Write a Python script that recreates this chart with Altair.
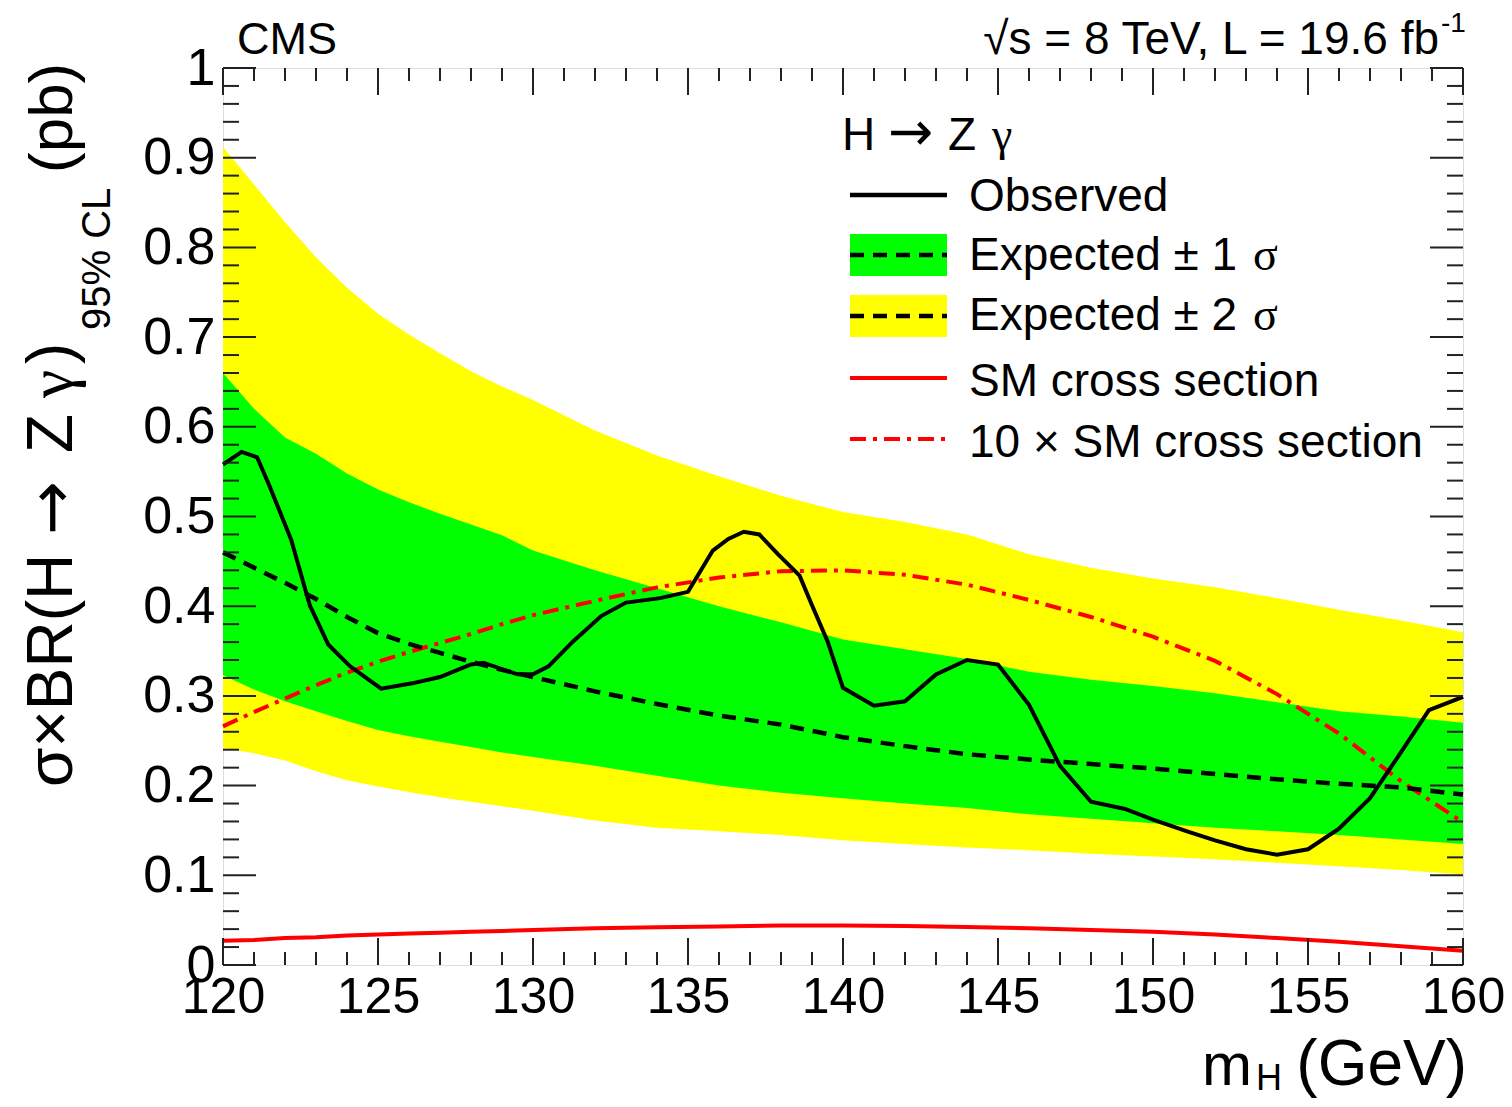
import altair as alt
import pandas as pd

# ---------------- data ----------------
grid_x = [120, 121, 122, 123, 124, 125, 126, 127, 128, 129, 130, 132, 134, 136,
          138, 140, 142, 144, 146, 148, 150, 152, 154, 156, 158, 160]
expected = [0.460, 0.443, 0.426, 0.408, 0.388, 0.370, 0.358, 0.348, 0.338, 0.329,
            0.321, 0.305, 0.291, 0.278, 0.268, 0.254, 0.244, 0.235, 0.229, 0.224,
            0.219, 0.213, 0.207, 0.202, 0.198, 0.190]
one_sigma_hi = [0.660, 0.620, 0.588, 0.570, 0.548, 0.530, 0.516, 0.503, 0.491, 0.479,
                0.462, 0.440, 0.420, 0.400, 0.382, 0.363, 0.352, 0.341, 0.327, 0.318,
                0.311, 0.303, 0.293, 0.283, 0.277, 0.270]
one_sigma_lo = [0.323, 0.307, 0.294, 0.283, 0.272, 0.262, 0.255, 0.249, 0.243, 0.237,
                0.232, 0.222, 0.211, 0.200, 0.192, 0.186, 0.180, 0.175, 0.168, 0.163,
                0.158, 0.153, 0.149, 0.145, 0.140, 0.135]
two_sigma_hi = [0.912, 0.870, 0.828, 0.789, 0.755, 0.726, 0.703, 0.682, 0.662, 0.645,
                0.630, 0.596, 0.568, 0.545, 0.523, 0.505, 0.494, 0.480, 0.458, 0.443,
                0.431, 0.421, 0.409, 0.396, 0.384, 0.371]
two_sigma_lo = [0.242, 0.236, 0.228, 0.216, 0.206, 0.199, 0.193, 0.187, 0.182, 0.177,
                0.172, 0.161, 0.153, 0.149, 0.145, 0.139, 0.135, 0.131, 0.128, 0.124,
                0.121, 0.118, 0.114, 0.110, 0.106, 0.101]
sm_x10 = [0.266, 0.282, 0.297, 0.312, 0.326, 0.338, 0.349, 0.359, 0.369, 0.380,
          0.390, 0.406, 0.421, 0.432, 0.439, 0.440, 0.435, 0.424, 0.407, 0.388,
          0.366, 0.339, 0.302, 0.258, 0.205, 0.159]
sm = [0.027, 0.028, 0.030, 0.031, 0.033, 0.034, 0.035, 0.036, 0.037, 0.038,
      0.039, 0.041, 0.042, 0.043, 0.044, 0.044, 0.0435, 0.0425, 0.041, 0.039,
      0.037, 0.034, 0.030, 0.026, 0.021, 0.016]

obs_x = [120, 120.6, 121.1, 121.5, 122.2, 122.8, 123.4, 124.1, 125.1, 126.1, 127.0,
         128.0, 128.4, 129.5, 130.0, 130.5, 131.3, 132.2, 133.0, 134.1, 135.0, 135.8,
         136.3, 136.8, 137.3, 137.9, 138.6, 139.0, 139.5, 140.0, 141.0, 142.0, 143.0,
         144.0, 145.0, 146.0, 147.0, 148.0, 149.1, 150.0, 151.1, 152.0, 153.0, 154.0,
         155.0, 156.0, 157.0, 157.9, 158.9, 160.0]
obs_y = [0.558, 0.572, 0.566, 0.534, 0.474, 0.401, 0.357, 0.333, 0.308, 0.314, 0.321,
         0.335, 0.337, 0.324, 0.324, 0.333, 0.361, 0.389, 0.404, 0.409, 0.416, 0.462,
         0.475, 0.483, 0.480, 0.458, 0.434, 0.401, 0.361, 0.309, 0.289, 0.294, 0.324,
         0.340, 0.335, 0.290, 0.222, 0.182, 0.174, 0.162, 0.149, 0.139, 0.129, 0.123,
         0.129, 0.152, 0.186, 0.232, 0.284, 0.299]

x_major = [120, 125, 130, 135, 140, 145, 150, 155, 160]
x_minor = [v for v in range(120, 161) if v % 5 != 0]
y_major = [0.0, 0.1, 0.2, 0.3, 0.4, 0.5, 0.6, 0.7, 0.8, 0.9, 1.0]
y_minor = [round(i * 0.02, 2) for i in range(51) if i % 5 != 0]

# ---------------- layout constants ----------------
W, H = 1240, 897
FONT = "Liberation Sans"
SERIF = "Liberation Serif"
ARROWFONT = "DejaVu Sans"

df = pd.DataFrame({"x": grid_x, "exp": expected, "s1lo": one_sigma_lo, "s1hi": one_sigma_hi,
                   "s2lo": two_sigma_lo, "s2hi": two_sigma_hi, "sm10": sm_x10, "sm": sm})
dobs = pd.DataFrame({"x": obs_x, "y": obs_y})

xs = alt.Scale(domain=[120, 160], nice=False, zero=False)
ys = alt.Scale(domain=[0, 1], nice=False, zero=True)

X = alt.X("x:Q", scale=xs, axis=alt.Axis(values=x_major, format="d", ticks=False, domain=False,
                                          grid=False, labelFontSize=50, labelFont=FONT,
                                          labelColor="black", labelPadding=7, title=None,
                                          labelFlush=False))
Yaxis = alt.Axis(values=y_major, format="~g", ticks=False, domain=False, grid=False,
                 labelFontSize=52, labelFont=FONT, labelColor="black", labelPadding=8,
                 title=None, labelFlush=False)

band2 = alt.Chart(df).mark_area(color="#ffff00", opacity=1).encode(
    x=X, y=alt.Y("s2lo:Q", scale=ys, axis=Yaxis), y2="s2hi:Q")
band1 = alt.Chart(df).mark_area(color="#00ff00", opacity=1).encode(
    x="x:Q", y="s1lo:Q", y2="s1hi:Q")
sm_line = alt.Chart(df).mark_line(color="#ff0000", strokeWidth=4).encode(x="x:Q", y="sm:Q")
sm10_line = alt.Chart(df).mark_line(color="#ff0000", strokeWidth=4,
                                    strokeDash=[16, 7, 4, 7]).encode(x="x:Q", y="sm10:Q")
exp_line = alt.Chart(df).mark_line(color="black", strokeWidth=4.5,
                                   strokeDash=[14, 9]).encode(x="x:Q", y="exp:Q")
obs_line = alt.Chart(dobs).mark_line(color="black", strokeWidth=4).encode(x="x:Q", y="y:Q")


def xticks(vals, length):
    d = pd.DataFrame({"x": vals})
    bot = alt.Chart(d).mark_rule(color="#222222", strokeWidth=2).encode(
        x="x:Q", y=alt.value(H), y2=alt.value(H - length))
    top = alt.Chart(d).mark_rule(color="#222222", strokeWidth=2).encode(
        x="x:Q", y=alt.value(0), y2=alt.value(length))
    return [bot, top]


def yticks(vals, length):
    d = pd.DataFrame({"y": vals})
    left = alt.Chart(d).mark_rule(color="#222222", strokeWidth=2).encode(
        y="y:Q", x=alt.value(0), x2=alt.value(length))
    right = alt.Chart(d).mark_rule(color="#222222", strokeWidth=2).encode(
        y="y:Q", x=alt.value(W), x2=alt.value(W - length))
    return [left, right]


one = pd.DataFrame({"k": [0]})


def txt(s, x, y, size, align="left", angle=None, font=FONT, baseline="alphabetic"):
    kw = dict(text=s, align=align, baseline=baseline, font=font, fontSize=size, color="black")
    if angle is not None:
        kw["angle"] = angle
    return alt.Chart(one).mark_text(**kw).encode(x=alt.value(x), y=alt.value(y))


def hline(x1, x2, y, color, width, dash=None):
    kw = dict(color=color, strokeWidth=width)
    if dash:
        kw["strokeDash"] = dash
    return alt.Chart(one).mark_rule(**kw).encode(x=alt.value(x1), x2=alt.value(x2), y=alt.value(y))


def box(x1, x2, y1, y2, color):
    return alt.Chart(one).mark_rect(color=color).encode(
        x=alt.value(x1), x2=alt.value(x2), y=alt.value(y1), y2=alt.value(y2))


LX1, LX2, TX = 627, 724, 746
rows = [127, 187, 248, 310, 371]
bases = [143, 202, 262, 328, 389]

legend = [
    txt("H", 619, 82, 46),
    txt("→", 665, 82, 54, font=ARROWFONT),
    txt("Z", 725, 82, 46),
    txt("γ", 769, 82, 46, font=SERIF),
    hline(LX1, LX2, rows[0], "black", 4.5),
    txt("Observed", TX, bases[0], 46),
    box(LX1, LX2, rows[1] - 21, rows[1] + 21, "#00ff00"),
    hline(LX1, LX2, rows[1], "black", 4.5, [14, 9]),
    txt("Expected ± 1", TX, bases[1], 46),
    txt("σ", 1030, bases[1], 46, font=SERIF),
    box(LX1, LX2, rows[2] - 21, rows[2] + 21, "#ffff00"),
    hline(LX1, LX2, rows[2], "black", 4.5, [14, 9]),
    txt("Expected ± 2", TX, bases[2], 46),
    txt("σ", 1030, bases[2], 46, font=SERIF),
    hline(LX1, LX2, rows[3], "#ff0000", 4),
    txt("SM cross section", TX, bases[3], 46),
    hline(LX1, LX2, rows[4], "#ff0000", 4, [16, 7, 4, 7]),
    txt("10 × SM cross section", TX, bases[4], 46),
]

titles = [
    txt("CMS", 14, -14, 45),
    txt("√s = 8 TeV, L = 19.6 fb", 1216, -14, 46, align="right"),
    txt("-1", 1218, -36, 28),
    txt("(GeV)", 1244, 1017, 64, align="right"),
    txt("H", 1033, 1022, 36),
    txt("m", 1029, 1017, 60, align="right"),
    # y-axis title, built from pieces (reads bottom to top)
    txt("σ×BR(H", -151, 719, 64, angle=270),
    txt("→", -150, 467, 64, angle=270, font=ARROWFONT),
    txt("Z", -151, 385, 64, angle=270),
    txt("γ", -151, 330, 64, angle=270, font=SERIF),
    txt(")", -151, 296, 64, angle=270),
    txt("95% CL", -113, 262, 40, angle=270),
    txt("(pb)", -151, 105, 62, angle=270),
]

layers = [band2, band1, sm_line, sm10_line, exp_line, obs_line]
layers += xticks(x_major, 27) + xticks(x_minor, 13)
layers += yticks(y_major, 33) + yticks(y_minor, 16)
layers += legend + titles

chart = alt.layer(*layers).properties(
    width=W, height=H,
    padding={"left": 215, "top": 60, "right": 41, "bottom": 134},
    autosize=alt.AutoSizeParams(type="none"),
).configure_view(stroke="black", strokeWidth=2).configure(background="white")

chart.save("out.html", embed_options={"renderer": "svg", "actions": False})
